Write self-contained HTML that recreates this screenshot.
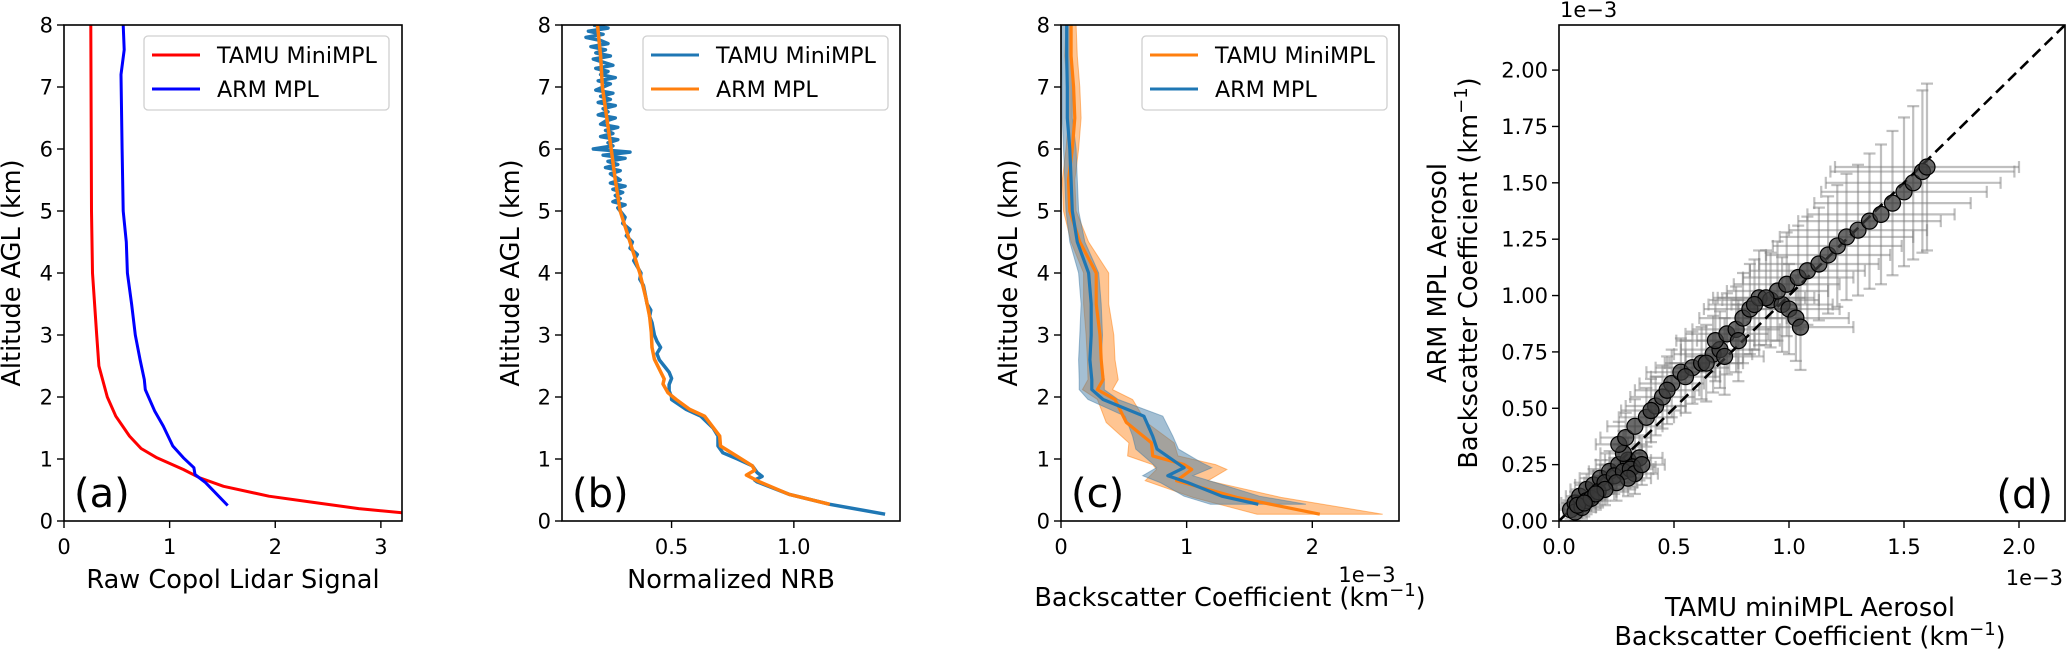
<!DOCTYPE html>
<html><head><meta charset="utf-8"><style>
html,body{margin:0;padding:0;background:#fff;}
svg{display:block;font-family:"DejaVu Sans","Liberation Sans",sans-serif;}
</style></head><body>
<svg id="fig" width="2067" height="654" viewBox="0 0 2067 654" xmlns="http://www.w3.org/2000/svg"></svg>
<script>
// ---------- Panel (a) data ----------
const aRedAlt = [8,5,4,3,2.5,2.0,1.69,1.37,1.17,1.02,0.83,0.70,0.56,0.40,0.30,0.20,0.13];
const aRedX   = [0.254,0.26,0.27,0.31,0.33,0.41,0.49,0.62,0.73,0.88,1.13,1.28,1.51,1.94,2.36,2.79,3.21];
const aBlueAlt = [8,7.6,7.2,6,5,4.5,4,3.5,3,2.6,2.28,2.12,1.77,1.53,1.21,1.02,0.86,0.75,0.62,0.25];
const aBlueX   = [0.56,0.57,0.54,0.55,0.56,0.59,0.60,0.64,0.675,0.72,0.76,0.77,0.86,0.94,1.03,1.13,1.23,1.24,1.34,1.55];
// ---------- Panel (b) data ----------
const bTamuAlt = [8.0,7.95,7.9,7.85,7.8,7.75,7.7,7.65,7.6,7.55,7.5,7.45,7.4,7.35,7.3,7.25,7.2,7.15,7.1,7.05,7.0,6.95,6.9,6.85,6.8,6.75,6.7,6.65,6.6,6.55,6.5,6.45,6.4,6.35,6.3,6.25,6.2,6.15,6.1,6.05,6.0,5.95,5.9,5.85,5.8,5.75,5.7,5.65,5.6,5.55,5.5,5.45,5.4,5.35,5.3,5.25,5.2,5.15,5.1,5.05,5.0,4.9,4.8,4.7,4.6,4.5,4.4,4.3,4.2,4.1,4.0,3.9,3.8,3.7,3.6,3.5,3.4,3.3,3.2,3.1,3.0,2.9,2.8,2.7,2.6,2.5,2.4,2.3,2.2,2.1,2.0,1.96,1.8,1.69,1.5,1.37,1.21,1.1,1.0,0.89,0.78,0.72,0.66,0.63,0.43,0.27,0.11];
const bTamuX   = [0.18,0.24,0.16,0.22,0.15,0.21,0.24,0.17,0.23,0.19,0.25,0.18,0.22,0.26,0.19,0.24,0.21,0.27,0.20,0.25,0.22,0.19,0.26,0.21,0.25,0.20,0.27,0.22,0.24,0.20,0.27,0.23,0.21,0.28,0.23,0.26,0.21,0.28,0.24,0.26,0.18,0.33,0.22,0.31,0.24,0.28,0.23,0.29,0.25,0.27,0.29,0.25,0.31,0.26,0.30,0.27,0.29,0.26,0.31,0.28,0.29,0.31,0.30,0.33,0.315,0.34,0.33,0.36,0.345,0.36,0.375,0.37,0.385,0.39,0.395,0.40,0.415,0.41,0.42,0.425,0.43,0.44,0.455,0.44,0.45,0.47,0.49,0.50,0.49,0.49,0.50,0.50,0.56,0.62,0.67,0.69,0.69,0.71,0.77,0.83,0.85,0.87,0.84,0.85,0.98,1.147,1.373];
const bArmAlt = [8,7.5,7,6.5,6,5.5,5,4.5,4,3.58,3.3,3.04,2.8,2.61,2.45,2.29,2.21,2.07,1.96,1.8,1.69,1.37,1.21,1.05,0.89,0.82,0.74,0.63,0.43,0.27];
const bArmX   = [0.197,0.21,0.217,0.235,0.253,0.27,0.29,0.33,0.37,0.396,0.41,0.417,0.42,0.43,0.45,0.47,0.465,0.485,0.519,0.574,0.635,0.697,0.70,0.765,0.83,0.84,0.806,0.86,0.98,1.147];
// ---------- Panel (c) data (x in 1e-3 km^-1) ----------
const cArmAlt = [0.27,0.40,0.62,0.73,0.86,0.94,1.16,1.37,1.69,1.96,2.12,2.28,2.6,3.0,3.5,4.0,4.5,5.0,5.5,6.0,6.5,7.0,7.5,8.0];
const cArmX   = [1.57,1.28,1.01,0.85,0.98,0.92,0.765,0.73,0.66,0.335,0.245,0.245,0.23,0.24,0.24,0.22,0.13,0.09,0.08,0.07,0.05,0.05,0.045,0.045];
const cArmErr = [0.38,0.30,0.22,0.20,0.22,0.20,0.17,0.16,0.15,0.12,0.10,0.10,0.09,0.09,0.08,0.08,0.06,0.05,0.05,0.05,0.04,0.04,0.04,0.04];
const cTamuAlt = [0.11,0.38,0.65,0.83,0.91,1.05,1.26,1.59,1.96,2.12,2.28,2.6,3.0,3.5,4.0,4.5,5.0,5.5,6.0,6.5,7.0,7.5,8.0];
const cTamuX   = [2.06,1.40,0.92,1.04,0.98,0.73,0.72,0.52,0.43,0.29,0.335,0.32,0.31,0.28,0.28,0.15,0.07,0.06,0.09,0.11,0.10,0.08,0.08];
const cTamuErr = [0.50,0.35,0.25,0.28,0.25,0.20,0.18,0.16,0.14,0.12,0.12,0.11,0.11,0.10,0.10,0.07,0.05,0.05,0.05,0.05,0.05,0.05,0.04];
// ---------- Panel (d) data (1e-3 km^-1) ----------
const dX  = [0.05,0.07,0.09,0.12,0.15,0.18,0.22,0.26,0.30,0.35,0.32,0.28,0.26,0.29,0.33,0.38,0.42,0.45,0.49,0.53,0.58,0.62,0.67,0.70,0.68,0.73,0.77,0.80,0.83,0.87,0.92,0.97,1.00,1.03,1.05,0.95,0.99,1.04,1.08,1.13,1.17,1.21,1.25,1.30,1.35,1.40,1.45,1.50,1.54,1.58,1.60,
             0.07,0.10,0.12,0.08,0.14,0.17,0.20,0.24,0.28,0.31,0.33,0.30,0.25,0.20,0.16,0.11,0.36,0.40,0.47,0.55,0.64,0.72,0.78,0.90,0.85];
const dY  = [0.05,0.08,0.11,0.14,0.16,0.19,0.22,0.25,0.27,0.28,0.24,0.30,0.34,0.37,0.42,0.46,0.51,0.55,0.61,0.66,0.68,0.70,0.74,0.76,0.80,0.83,0.85,0.90,0.94,0.99,0.98,0.96,0.94,0.90,0.86,1.02,1.05,1.08,1.11,1.14,1.18,1.22,1.26,1.29,1.33,1.36,1.41,1.46,1.50,1.55,1.57,
             0.04,0.06,0.09,0.07,0.10,0.13,0.17,0.20,0.22,0.23,0.21,0.19,0.17,0.14,0.12,0.08,0.25,0.49,0.58,0.64,0.70,0.73,0.80,0.99,0.96];
const dXe = [0.05,0.06,0.06,0.07,0.08,0.09,0.09,0.10,0.10,0.10,0.10,0.10,0.10,0.11,0.12,0.12,0.13,0.14,0.14,0.15,0.16,0.16,0.17,0.17,0.17,0.18,0.19,0.19,0.20,0.20,0.21,0.22,0.22,0.23,0.23,0.22,0.23,0.24,0.25,0.26,0.27,0.28,0.29,0.30,0.31,0.32,0.34,0.36,0.38,0.40,0.40,
             0.05,0.06,0.07,0.06,0.07,0.08,0.09,0.09,0.10,0.10,0.10,0.10,0.09,0.08,0.08,0.07,0.10,0.13,0.14,0.15,0.16,0.17,0.18,0.21,0.20];
const dYe = [0.04,0.05,0.06,0.07,0.07,0.08,0.09,0.09,0.10,0.10,0.09,0.10,0.10,0.11,0.12,0.13,0.13,0.14,0.15,0.15,0.16,0.16,0.17,0.17,0.18,0.18,0.19,0.20,0.20,0.21,0.21,0.21,0.20,0.19,0.19,0.22,0.23,0.23,0.24,0.25,0.26,0.27,0.28,0.29,0.30,0.31,0.32,0.33,0.34,0.36,0.37,
             0.04,0.05,0.06,0.05,0.06,0.07,0.08,0.08,0.09,0.09,0.09,0.08,0.08,0.07,0.07,0.06,0.09,0.14,0.15,0.16,0.17,0.17,0.18,0.21,0.20];
const altTicks = [0,1,2,3,4,5,6,7,8];
const aXTicks = [0,1,2,3];
const bXTicks = [0.5,1.0];
const cXTicks = [0,1,2];
const dTicks = [0,0.25,0.5,0.75,1.0,1.25,1.5,1.75,2.0];
const dXTicks = [0,0.5,1.0,1.5,2.0];

const NS = "http://www.w3.org/2000/svg";
const svg = document.getElementById('fig');
function mk(tag, attrs, parent){
  const e = document.createElementNS(NS, tag);
  for (const k in attrs) e.setAttribute(k, attrs[k]);
  (parent || svg).appendChild(e);
  return e;
}
function txt(s, x, y, size, anchor, parent, rot){
  const t = mk('text', {x:x, y:y, 'font-size':size, 'text-anchor':anchor||'middle', fill:'#000'}, parent);
  if (rot) t.setAttribute('transform', `rotate(${rot} ${x} ${y})`);
  t.textContent = s;
  return t;
}
function scale(d0,d1,r0,r1){ return v => r0 + (v-d0)/(d1-d0)*(r1-r0); }
const TOP = 25, BOT = 521;

function frame(g, x0, x1){
  const r = mk('rect', {x:x0, y:TOP, width:x1-x0, height:BOT-TOP, fill:'none', stroke:'#000', 'stroke-width':1.6}, g);
  
  
}
function xTicks(g, ticks, sx, fmt){
  ticks.forEach(v => {
    const x = sx(v);
    mk('line', {x1:x, x2:x, y1:BOT, y2:BOT+7, stroke:'#000', 'stroke-width':1.4}, g);
    const t = txt(fmt(v), x, 554, 21, 'middle', g);
    
    
  });
}
function yTicks(g, ticks, x0, sy, fmt){
  ticks.forEach(v => {
    const y = sy(v);
    mk('line', {x1:x0-7, x2:x0, y1:y, y2:y, stroke:'#000', 'stroke-width':1.4}, g);
    const t = txt(fmt(v), x0-11, y+7.5, 21, 'end', g);
    
    
  });
}
function linePath(g, xs, ys, sx, sy, color, w, name){
  const d = xs.map((v,i)=>(i?'L':'M')+sx(v).toFixed(1)+','+sy(ys[i]).toFixed(1)).join('');
  const p = mk('path', {d:d, fill:'none', stroke:color, 'stroke-width':w, 'stroke-linejoin':'round'}, g);
  
  
  return p;
}
function legend(g, x0, entries){
  const lg = mk('g', {}, g);
  
  
  mk('rect', {x:x0, y:36, width:245, height:74, rx:4, fill:'#fff', 'fill-opacity':0.8, stroke:'#d0d0d0', 'stroke-width':1.3}, lg);
  entries.forEach((e,i) => {
    const y = 55 + i*34;
    const eg = mk('g', {}, lg);
    
    
    mk('line', {x1:x0+8, x2:x0+56, y1:y, y2:y, stroke:e[1], 'stroke-width':3}, eg);
    txt(e[0], x0+73, y+8, 22.2, 'start', eg);
  });
}
function ylabel(g, s, x){
  const t = txt(s, x, 273, 25.6, 'middle', g, -90);
  
  
}
function panelLetter(g, s, x, y, anchor){
  const t = txt(s, x, y, 40, anchor||'start', g);
  
  
}
const fInt = v => String(v);
const f1 = v => v.toFixed(1);
const f2 = v => v.toFixed(2);

// ===== Panel A =====
(function(){
  const g = mk('g', {});  
  const x0=64, x1=402;
  const sx = scale(0,3.2,x0,x1), sy = scale(0,8,BOT,TOP);
  const cp = mk('clipPath', {id:'clipA'}, g);
  mk('rect', {x:x0, y:TOP, width:x1-x0, height:BOT-TOP}, cp);
  const dg = mk('g', {'clip-path':'url(#clipA)'}, g);
  linePath(dg, aRedX, aRedAlt, sx, sy, '#ff0000', 3, 'tamu-minimpl-line');
  linePath(dg, aBlueX, aBlueAlt, sx, sy, '#0000ff', 3, 'arm-mpl-line');
  frame(g, x0, x1);
  xTicks(g, aXTicks, sx, fInt);
  yTicks(g, altTicks, x0, sy, fInt);
  const xl = txt('Raw Copol Lidar Signal', (x0+x1)/2+0, 588, 25.6, 'middle', g);
   
  ylabel(g, 'Altitude AGL (km)', 20);
  legend(g, 144, [['TAMU MiniMPL','#ff0000'],['ARM MPL','#0000ff']]);
  panelLetter(g, '(a)', 74, 507);
})();

// ===== Panel B =====
(function(){
  const g = mk('g', {});  
  const x0=562, x1=900;
  const sx = scale(0.052,1.434,x0,x1), sy = scale(0,8,BOT,TOP);
  const cp = mk('clipPath', {id:'clipB'}, g);
  mk('rect', {x:x0, y:TOP, width:x1-x0, height:BOT-TOP}, cp);
  const dg = mk('g', {'clip-path':'url(#clipB)'}, g);
  linePath(dg, bTamuX, bTamuAlt, sx, sy, '#1f77b4', 3.5, 'tamu-minimpl-line');
  linePath(dg, bArmX, bArmAlt, sx, sy, '#ff7f0e', 3.5, 'arm-mpl-line');
  frame(g, x0, x1);
  xTicks(g, bXTicks, sx, f1);
  yTicks(g, altTicks, x0, sy, fInt);
  const xl = txt('Normalized NRB', (x0+x1)/2, 588, 25.6, 'middle', g);
   
  ylabel(g, 'Altitude AGL (km)', 519);
  legend(g, 643, [['TAMU MiniMPL','#1f77b4'],['ARM MPL','#ff7f0e']]);
  panelLetter(g, '(b)', 572, 507);
})();

// ===== Panel C =====
(function(){
  const g = mk('g', {});  
  const x0=1061, x1=1399;
  const sx = scale(0,2.69,x0,x1), sy = scale(0,8,BOT,TOP);
  const cp = mk('clipPath', {id:'clipC'}, g);
  mk('rect', {x:x0, y:TOP, width:x1-x0, height:BOT-TOP}, cp);
  const dg = mk('g', {'clip-path':'url(#clipC)'}, g);
  function band(xs, es, alts, color, name, op){
    const up = xs.map((v,i)=>'L'+sx(v+es[i]).toFixed(1)+','+sy(alts[i]).toFixed(1));
    const dn = xs.map((v,i)=>'L'+sx(Math.max(0,v-es[i])).toFixed(1)+','+sy(alts[i]).toFixed(1)).reverse();
    const d = 'M'+up.join('').slice(1)+dn.join('')+'Z';
    const p = mk('path', {d:d, fill:color, 'fill-opacity':op, stroke:color, 'stroke-opacity':0.5, 'stroke-width':1}, dg);
    
    
  }
  band(cTamuX, cTamuErr, cTamuAlt, '#ff7f0e', 'tamu-uncertainty-band', 0.45);
  band(cArmX, cArmErr, cArmAlt, '#4a7fa8', 'arm-uncertainty-band', 0.5);
  linePath(dg, cTamuX, cTamuAlt, sx, sy, '#ff7f0e', 3.2, 'tamu-minimpl-line');
  linePath(dg, cArmX, cArmAlt, sx, sy, '#1f77b4', 3.2, 'arm-mpl-line');
  frame(g, x0, x1);
  xTicks(g, cXTicks, sx, fInt);
  yTicks(g, altTicks, x0, sy, fInt);
  const off = txt('1e\u22123', 1367, 582, 21, 'middle', g);
   
  const xl = mk('text', {x:1230, y:606, 'font-size':25.6, 'text-anchor':'middle'}, g);
  xl.innerHTML = 'Backscatter Coefficient (km<tspan dy="-10" font-size="18">\u22121</tspan><tspan dy="10">)</tspan>';
   
  ylabel(g, 'Altitude AGL (km)', 1017);
  legend(g, 1142, [['TAMU MiniMPL','#ff7f0e'],['ARM MPL','#1f77b4']]);
  panelLetter(g, '(c)', 1071, 507);
})();

// ===== Panel D =====
(function(){
  const g = mk('g', {});  
  const x0=1559, x1=2065;
  const sx = scale(0,2.2,x0,x1), sy = scale(0,2.2,BOT,TOP);
  const cp = mk('clipPath', {id:'clipD'}, g);
  mk('rect', {x:x0, y:TOP, width:x1-x0, height:BOT-TOP}, cp);
  const dg = mk('g', {'clip-path':'url(#clipD)'}, g);
  const eg = mk('g', {stroke:'#808080', 'stroke-opacity':0.5, 'stroke-width':2.2}, dg);
  
  
  dX.forEach((v,i)=>{
    const cx = sx(v), cy = sy(dY[i]);
    const xl = sx(v-dXe[i]), xr = sx(v+dXe[i]), yt = sy(dY[i]+dYe[i]), yb = sy(dY[i]-dYe[i]);
    mk('line', {x1:xl, x2:xr, y1:cy, y2:cy}, eg);
    mk('line', {x1:cx, x2:cx, y1:yt, y2:yb}, eg);
    mk('line', {x1:xl, x2:xl, y1:cy-6, y2:cy+6}, eg);
    mk('line', {x1:xr, x2:xr, y1:cy-6, y2:cy+6}, eg);
    mk('line', {x1:cx-6, x2:cx+6, y1:yt, y2:yt}, eg);
    mk('line', {x1:cx-6, x2:cx+6, y1:yb, y2:yb}, eg);
  });
  const one = mk('line', {x1:sx(0), y1:sy(0), x2:sx(2.2), y2:sy(2.2), stroke:'#000', 'stroke-width':2.6, 'stroke-dasharray':'11,6'}, dg);
  
  
  dX.forEach((v,i)=>{
    const c = mk('circle', {cx:sx(v), cy:sy(dY[i]), r:8, fill:'#3a3a3a', 'fill-opacity':0.75, stroke:'#000', 'stroke-width':1.2}, dg);
    
    
  });
  frame(g, x0, x1);
  xTicks(g, dXTicks, sx, f1);
  yTicks(g, dTicks, x0, sy, f2);
  const o1 = txt('1e\u22123', 1560, 17, 21, 'start', g);
   
  const o2 = txt('1e\u22123', 2063, 585, 21, 'end', g);
   
  const xl1 = txt('TAMU miniMPL Aerosol', 1810, 616, 25.6, 'middle', g);
   
  const xl2 = mk('text', {x:1810, y:645, 'font-size':25.6, 'text-anchor':'middle'}, g);
  xl2.innerHTML = 'Backscatter Coefficient (km<tspan dy="-10" font-size="18">\u22121</tspan><tspan dy="10">)</tspan>';
   
  ylabel(g, 'ARM MPL Aerosol', 1446);
  const yl2 = mk('text', {x:1477, y:273, 'font-size':25.6, 'text-anchor':'middle', transform:'rotate(-90 1477 273)'}, g);
  yl2.innerHTML = 'Backscatter Coefficient (km<tspan dy="-10" font-size="18">\u22121</tspan><tspan dy="10">)</tspan>';
   
  panelLetter(g, '(d)', 2053, 508, 'end');
})();
</script>
</body></html>
